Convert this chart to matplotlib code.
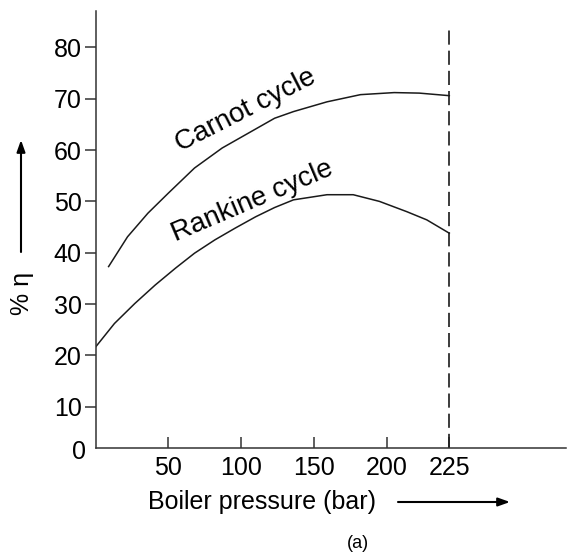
import numpy as np
import matplotlib
matplotlib.use("Agg")
import matplotlib.pyplot as plt

plt.rcParams['font.family'] = ['Liberation Sans', 'DejaVu Sans']

# ---- data ----
carnot_p = [9, 22, 36, 50, 68, 87, 105, 123, 136, 159, 182, 203, 213, 225]
carnot_eff = [37.3, 43.1, 47.7, 51.6, 56.5, 60.4, 63.3, 66.2, 67.5, 69.4, 70.8, 71.2, 71.1, 70.6]

rankine_p = [0, 13, 27, 41, 55, 68, 82, 96, 110, 123, 136, 159, 177, 195, 208, 216, 225]
rankine_eff = [21.6, 26.2, 30.1, 33.7, 37.0, 39.9, 42.5, 44.8, 47.0, 48.8, 50.3, 51.3, 51.3, 50.0, 48.0, 46.4, 43.8]

x_ticks = [50, 100, 150, 200, 225]
x_tick_labels = ['50', '100', '150', '200', '225']
y_ticks = [10, 20, 30, 40, 50, 60, 70, 80]
y_tick_labels = ['10', '20', '30', '40', '50', '60', '70', '80']
limit_pressure = 225

# schematic axis: stretched beyond 200 bar as in the drawing
K = 1.72
def fwd(x):
    x = np.asarray(x, dtype=float)
    return np.where(x <= 200, x, 200 + (x - 200) * K)
def inv(y):
    y = np.asarray(y, dtype=float)
    return np.where(y <= 200, y, 200 + (y - 200) / K)

fig = plt.figure(figsize=(5.72, 5.57), dpi=100)
ax = fig.add_axes([95.5/572, 109.3/557, (566-95.5)/572, (447.7-11)/557])
ax.set_xscale('function', functions=(fwd, inv))

lc = '#1a1a1a'
ax.plot(carnot_p, carnot_eff, color=lc, lw=1.1)
ax.plot(rankine_p, rankine_eff, color=lc, lw=1.1)
ax.vlines(limit_pressure, 2, 84.4, colors=lc, lw=1.2, linestyles=(0, (8.5, 3.6)))

ax.set_xlim(0, 271.6)
ax.set_ylim(2, 87.1)

for s in ['top', 'right']:
    ax.spines[s].set_visible(False)
for s in ['left', 'bottom']:
    ax.spines[s].set_color('#333333')
    ax.spines[s].set_linewidth(1.1)

ax.set_xticks(x_ticks)
ax.set_xticklabels(x_tick_labels)
ax.set_yticks(y_ticks)
ax.set_yticklabels(y_tick_labels)
ax.tick_params(axis='x', direction='in', length=8, width=1.1, color='#333333',
               labelsize=18, pad=6)
ax.tick_params(axis='y', direction='out', length=8, width=1.1, color='#333333',
               labelsize=18, pad=2)

ax.annotate('0', xy=(0, 2), xycoords='data', xytext=(-12, -3),
            textcoords='offset points', ha='center', va='center', fontsize=18)

ax.text(103.4, 67.8, 'Carnot cycle', rotation=27, rotation_mode='anchor',
        ha='center', va='center', fontsize=20)
ax.text(107.6, 50.0, 'Rankine cycle', rotation=23, rotation_mode='anchor',
        ha='center', va='center', fontsize=20)

ax.set_xlabel('Boiler pressure (bar)', fontsize=18)
ax.xaxis.set_label_coords(0.354, -0.124)
ax.xaxis.label.set_va('center')
ax.set_ylabel('% η', fontsize=18)
ax.yaxis.set_label_coords(-0.157, 0.354)
ax.yaxis.label.set_va('center')

# arrows
arrow_kw = dict(arrowstyle='-|>,head_length=0.7,head_width=0.25', color='black', lw=1.5,
                shrinkA=0, shrinkB=0)
ax.annotate('', xy=(21, 417), xycoords='figure pixels', xytext=(21, 305),
            textcoords='figure pixels', arrowprops=arrow_kw)
ax.annotate('', xy=(510, 55), xycoords='figure pixels', xytext=(398, 55),
            textcoords='figure pixels', arrowprops=arrow_kw)

fig.text(358/572, 14/557, '(a)', ha='center', va='center', fontsize=13)

fig.savefig('out.png', dpi=100)
